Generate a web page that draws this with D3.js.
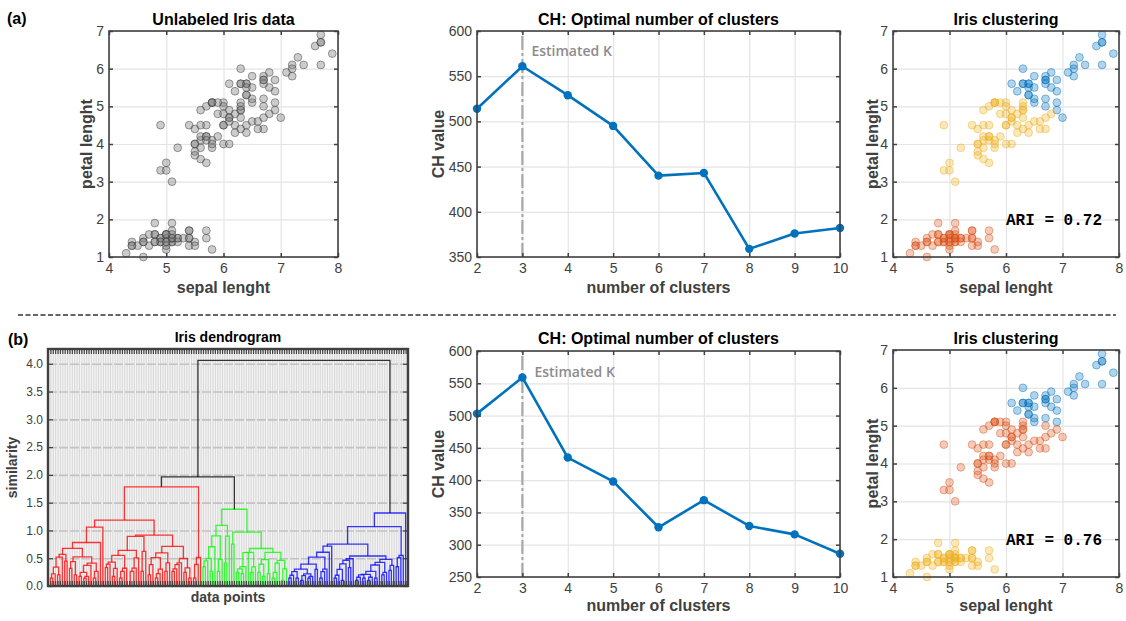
<!DOCTYPE html>
<html>
<head>
<meta charset="utf-8">
<title>Iris clustering</title>
<script src="https://cdn.jsdelivr.net/npm/d3@7"></script>
<style>
body { margin:0; background:#fff; }
text { font-family:"Liberation Sans", Arial, Helvetica, sans-serif; }
</style>
</head>
<body>
<svg id="fig" width="1126" height="621"></svg>
<script>
// Fisher iris data (150 flowers)
const sepalLength = [
5.1,4.9,4.7,4.6,5.0,5.4,4.6,5.0,4.4,4.9,5.4,4.8,4.8,4.3,5.8,5.7,5.4,5.1,5.7,5.1,
5.4,5.1,4.6,5.1,4.8,5.0,5.0,5.2,5.2,4.7,4.8,5.4,5.2,5.5,4.9,5.0,5.5,4.9,4.4,5.1,
5.0,4.5,4.4,5.0,5.1,4.8,5.1,4.6,5.3,5.0,
7.0,6.4,6.9,5.5,6.5,5.7,6.3,4.9,6.6,5.2,5.0,5.9,6.0,6.1,5.6,6.7,5.6,5.8,6.2,5.6,
5.9,6.1,6.3,6.1,6.4,6.6,6.8,6.7,6.0,5.7,5.5,5.5,5.8,6.0,5.4,6.0,6.7,6.3,5.6,5.5,
5.5,6.1,5.8,5.0,5.6,5.7,5.7,6.2,5.1,5.7,
6.3,5.8,7.1,6.3,6.5,7.6,4.9,7.3,6.7,7.2,6.5,6.4,6.8,5.7,5.8,6.4,6.5,7.7,7.7,6.0,
6.9,5.6,7.7,6.3,6.7,7.2,6.2,6.1,6.4,7.2,7.4,7.9,6.4,6.3,6.1,7.7,6.3,6.4,6.0,6.9,
6.7,6.9,5.8,6.8,6.7,6.7,6.3,6.5,6.2,5.9];
const sepalWidth = [
3.5,3.0,3.2,3.1,3.6,3.9,3.4,3.4,2.9,3.1,3.7,3.4,3.0,3.0,4.0,4.4,3.9,3.5,3.8,3.8,
3.4,3.7,3.6,3.3,3.4,3.0,3.4,3.5,3.4,3.2,3.1,3.4,4.1,4.2,3.1,3.2,3.5,3.6,3.0,3.4,
3.5,2.3,3.2,3.5,3.8,3.0,3.8,3.2,3.7,3.3,
3.2,3.2,3.1,2.3,2.8,2.8,3.3,2.4,2.9,2.7,2.0,3.0,2.2,2.9,2.9,3.1,3.0,2.7,2.2,2.5,
3.2,2.8,2.5,2.8,2.9,3.0,2.8,3.0,2.9,2.6,2.4,2.4,2.7,2.7,3.0,3.4,3.1,2.3,3.0,2.5,
2.6,3.0,2.6,2.3,2.7,3.0,2.9,2.9,2.5,2.8,
3.3,2.7,3.0,2.9,3.0,3.0,2.5,2.9,2.5,3.6,3.2,2.7,3.0,2.5,2.8,3.2,3.0,3.8,2.6,2.2,
3.2,2.8,2.8,2.7,3.3,3.2,2.8,3.0,2.8,3.0,2.8,3.8,2.8,2.8,2.6,3.0,3.4,3.1,3.0,3.1,
3.1,3.1,2.7,3.2,3.3,3.0,2.5,3.0,3.4,3.0];
const petalLength = [
1.4,1.4,1.3,1.5,1.4,1.7,1.4,1.5,1.4,1.5,1.5,1.6,1.4,1.1,1.2,1.5,1.3,1.4,1.7,1.5,
1.7,1.5,1.0,1.7,1.9,1.6,1.6,1.5,1.4,1.6,1.6,1.5,1.5,1.4,1.5,1.2,1.3,1.4,1.3,1.5,
1.3,1.3,1.3,1.6,1.9,1.4,1.6,1.4,1.5,1.4,
4.7,4.5,4.9,4.0,4.6,4.5,4.7,3.3,4.6,3.9,3.5,4.2,4.0,4.7,3.6,4.4,4.5,4.1,4.5,3.9,
4.8,4.0,4.9,4.7,4.3,4.4,4.8,5.0,4.5,3.5,3.8,3.7,3.9,5.1,4.5,4.5,4.7,4.4,4.1,4.0,
4.4,4.6,4.0,3.3,4.2,4.2,4.2,4.3,3.0,4.1,
6.0,5.1,5.9,5.6,5.8,6.6,4.5,6.3,5.8,6.1,5.1,5.3,5.5,5.0,5.1,5.3,5.5,6.7,6.9,5.0,
5.7,4.9,6.7,4.9,5.7,6.0,4.8,4.9,5.6,5.8,6.1,6.4,5.6,5.1,5.6,6.1,5.6,5.5,4.8,5.4,
5.6,5.1,5.1,5.9,5.7,5.2,5.0,5.2,5.4,5.1];
const petalWidth = [
0.2,0.2,0.2,0.2,0.2,0.4,0.3,0.2,0.2,0.1,0.2,0.2,0.1,0.1,0.2,0.4,0.4,0.3,0.3,0.3,
0.2,0.4,0.2,0.5,0.2,0.2,0.4,0.2,0.2,0.2,0.2,0.4,0.1,0.2,0.2,0.2,0.2,0.1,0.2,0.2,
0.3,0.3,0.2,0.6,0.4,0.3,0.2,0.2,0.2,0.2,
1.4,1.5,1.5,1.3,1.5,1.3,1.6,1.0,1.3,1.4,1.0,1.5,1.0,1.4,1.3,1.4,1.5,1.0,1.5,1.1,
1.8,1.3,1.5,1.2,1.3,1.4,1.4,1.7,1.5,1.0,1.1,1.0,1.2,1.6,1.5,1.6,1.5,1.3,1.3,1.3,
1.2,1.4,1.2,1.0,1.3,1.2,1.3,1.3,1.1,1.3,
2.5,1.9,2.1,1.8,2.2,2.1,1.7,1.8,1.8,2.5,2.0,1.9,2.1,2.0,2.4,2.3,1.8,2.2,2.3,1.5,
2.3,2.0,2.0,1.8,2.1,1.8,1.8,1.8,2.1,1.6,1.9,2.0,2.2,1.5,1.4,2.3,2.4,1.8,1.8,2.1,
2.4,2.3,1.9,2.3,2.5,2.3,1.9,2.0,2.3,1.8];

// k-means cluster of each flower (a) right: 0 lower, 1 middle, 2 upper
const kmeansLabels = [
0,0,0,0,0,0,0,0,0,0,0,0,0,0,0,0,0,0,0,0,0,0,0,0,0,0,0,0,0,0,0,0,0,0,0,0,0,0,0,0,
0,0,0,0,0,0,0,0,0,0,
2,1,2,1,1,1,1,1,1,1,1,1,1,1,1,1,1,1,1,1,1,1,1,1,1,1,1,2,1,1,1,1,1,1,1,1,1,1,1,1,
1,1,1,1,1,1,1,1,1,1,
2,1,2,2,2,2,1,2,2,2,2,2,2,1,1,2,2,2,2,1,2,1,2,1,2,2,1,1,2,2,2,2,2,1,2,2,2,2,1,2,
2,2,1,2,2,2,1,2,2,1];

const kChoices = [2, 3, 4, 5, 6, 7, 8, 9, 10];
const chKmeans  = [514, 561, 529, 495, 440, 443, 359, 376, 382];
const chLinkage = [503, 559, 435, 398, 327, 369, 329, 316, 286];
const estimatedK = 3;
const ariKmeans = "ARI = 0.72";
const ariLinkage = "ARI = 0.76";

const scatterTicksX = [4, 5, 6, 7, 8];
const scatterTicksY = [1, 2, 3, 4, 5, 6, 7];
const chTicksTop = [350, 400, 450, 500, 550, 600];
const chTicksBottom = [250, 300, 350, 400, 450, 500, 550, 600];
const dendroTicks = [0, 0.5, 1, 1.5, 2, 2.5, 3, 3.5, 4];

const BLUE = "#0072BD", ORANGE = "#D95319", YELLOW = "#EDB120";
const AXC = "#404040";
const svg = d3.select("#fig");

function styleAxis(a, size) {
  a.attr("font-family", null).attr("font-size", size);
  a.select(".domain").remove();
  a.selectAll(".tick line").attr("stroke", AXC).attr("stroke-width", 1.5);
  a.selectAll(".tick text").attr("fill", AXC);
}

// MATLAB-like boxed axes; returns scales and a layer for the marks
function panel(o) {
  const x = d3.scaleLinear().domain(o.xDomain).range([o.x0, o.x1]);
  const y = d3.scaleLinear().domain(o.yDomain).range([o.y1, o.y0]);
  const w = o.x1 - o.x0, h = o.y1 - o.y0;
  const root = svg.append("g");
  const gridG = root.append("g"), marks = root.append("g"), frameG = root.append("g");
  if (o.bg) gridG.append("rect").attr("x", o.x0).attr("y", o.y0).attr("width", w).attr("height", h).attr("fill", o.bg);
  gridG.append("g").attr("transform", `translate(0,${o.y1})`)
    .call(d3.axisBottom(x).tickValues(o.xGrid || o.xTicks).tickSize(-h).tickSizeOuter(0).tickFormat(""))
    .call(a => { a.select(".domain").remove();
      a.selectAll("line").attr("stroke", o.gridXColor || "#e4e4e4").attr("stroke-width", o.gridXWidth || 1.2); });
  gridG.append("g").attr("transform", `translate(${o.x0},0)`)
    .call(d3.axisLeft(y).tickValues(o.yTicks).tickSize(-w).tickSizeOuter(0).tickFormat(""))
    .call(a => { a.select(".domain").remove();
      a.selectAll("line").attr("stroke", o.gridYColor || "#e4e4e4").attr("stroke-width", o.gridYWidth || 1.2)
        .attr("stroke-dasharray", o.gridYDash || null); });

  const fs = o.tickFont || 14, tl = o.tickLen || 4;
  const xt = o.xTickMarks || o.xTicks;
  frameG.append("g").attr("transform", `translate(0,${o.y1})`)
    .call(d3.axisBottom(x).tickValues(xt).tickSize(-tl).tickSizeOuter(0).tickPadding(6)
      .tickFormat(o.xFmt || d3.format("d")))
    .call(a => styleAxis(a, fs));
  frameG.append("g").attr("transform", `translate(0,${o.y0})`)
    .call(d3.axisTop(x).tickValues(xt).tickSize(-tl).tickSizeOuter(0).tickFormat(""))
    .call(a => styleAxis(a, fs));
  frameG.append("g").attr("transform", `translate(${o.x0},0)`)
    .call(d3.axisLeft(y).tickValues(o.yTicks).tickSize(-(o.yTickLen || tl)).tickSizeOuter(0).tickPadding(5)
      .tickFormat(o.yFmt || d3.format("d")))
    .call(a => styleAxis(a, fs));
  frameG.append("g").attr("transform", `translate(${o.x1},0)`)
    .call(d3.axisRight(y).tickValues(o.yTicks).tickSize(-(o.yTickLen || tl)).tickSizeOuter(0).tickFormat(""))
    .call(a => styleAxis(a, fs));
  if (o.tickW) frameG.selectAll(".tick line").attr("stroke-width", o.tickW);
  frameG.append("rect").attr("x", o.x0).attr("y", o.y0).attr("width", w).attr("height", h)
    .attr("fill", "none").attr("stroke", AXC).attr("stroke-width", o.boxW || 1.6);

  const lf = o.labelFont || 16;
  frameG.append("text").attr("x", (o.x0 + o.x1) / 2).attr("y", o.titleY)
    .attr("text-anchor", "middle").attr("font-weight", "bold").attr("font-size", lf).attr("fill", "#000").text(o.title);
  frameG.append("text").attr("x", (o.x0 + o.x1) / 2).attr("y", o.xLabelY)
    .attr("text-anchor", "middle").attr("font-weight", "bold").attr("font-size", lf).attr("fill", AXC).text(o.xLabel);
  frameG.append("text").attr("transform", `translate(${o.yLabelX},${(o.y0 + o.y1) / 2}) rotate(-90)`)
    .attr("text-anchor", "middle").attr("font-weight", "bold").attr("font-size", lf).attr("fill", AXC).text(o.yLabel);
  return { x, y, marks };
}

function scatterPanel(y0, y1, titleY, xLabelY, colorOf, ari) {
  const p = panel({ x0: 893, x1: 1119, y0, y1, xDomain: [4, 8], yDomain: [1, 7],
    xTicks: scatterTicksX, yTicks: scatterTicksY, title: "Iris clustering",
    xLabel: "sepal lenght", yLabel: "petal lenght", titleY, xLabelY, yLabelX: 878 });
  p.marks.selectAll("circle").data(d3.range(sepalLength.length)).join("circle")
    .attr("cx", i => p.x(sepalLength[i])).attr("cy", i => p.y(petalLength[i])).attr("r", 3.9)
    .attr("fill", colorOf).attr("fill-opacity", 0.3)
    .attr("stroke", colorOf).attr("stroke-opacity", 0.45).attr("stroke-width", 1);
  p.marks.append("text").attr("x", p.x(6)).attr("y", p.y(2) + 5.5)
    .attr("font-family", "'Liberation Mono', 'Courier New', monospace").style("font-family", "'Liberation Mono', 'Courier New', monospace")
    .attr("font-weight", "bold").attr("font-size", 16).attr("fill", "#000")
    .attr("xml:space", "preserve").text(ari);
}

function chPanel(y0, y1, yDomain, yTicks, values, titleY, xLabelY, estX, estY) {
  const p = panel({ x0: 477, x1: 840, y0, y1, xDomain: [2, 10], yDomain,
    xTicks: kChoices, yTicks, title: "CH: Optimal number of clusters",
    xLabel: "number of clusters", yLabel: "CH value", titleY, xLabelY, yLabelX: 444 });
  p.marks.append("line").attr("x1", p.x(estimatedK)).attr("x2", p.x(estimatedK))
    .attr("y1", p.y(yDomain[0])).attr("y2", p.y(yDomain[1]))
    .attr("stroke", "#a8a8a8").attr("stroke-width", 2.2).attr("stroke-dasharray", "14,3,3,3");
  p.marks.append("text").attr("x", p.x(estimatedK) + estX).attr("y", y0 + estY)
    .style("font-family", "'Open Sans', 'DejaVu Sans', sans-serif").attr("font-weight", 600)
    .attr("font-size", 14).attr("fill", "#8c8c8c").text("Estimated K");
  const pts = kChoices.map((k, i) => [k, values[i]]);
  p.marks.append("path").datum(pts)
    .attr("d", d3.line().x(d => p.x(d[0])).y(d => p.y(d[1])))
    .attr("fill", "none").attr("stroke", BLUE).attr("stroke-width", 2.6).attr("stroke-linejoin", "round");
  p.marks.selectAll("circle").data(pts).join("circle")
    .attr("cx", d => p.x(d[0])).attr("cy", d => p.y(d[1])).attr("r", 4.2).attr("fill", BLUE);
}

// ---------- average-linkage hierarchical clustering on the four features ----------
const flowers = sepalLength.map((v, i) => [v, sepalWidth[i], petalLength[i], petalWidth[i]]);
function averageLinkage(X) {
  const n = X.length, N = 2 * n - 1;
  const D = Array.from({ length: N }, () => new Float64Array(N));
  for (let i = 0; i < n; i++) for (let j = 0; j < n; j++)
    D[i][j] = Math.sqrt(d3.sum(X[i], (v, k) => (v - X[j][k]) ** 2));
  const nodes = X.map((_, i) => ({ id: i, h: 0, size: 1, leaf: true }));
  const active = d3.range(n);
  for (let id = n; id < N; id++) {
    let best = Infinity, bi = -1, bj = -1;
    for (let a = 0; a < active.length; a++) for (let b = a + 1; b < active.length; b++) {
      const d = D[active[a]][active[b]];
      if (d < best - 1e-12) { best = d; bi = a; bj = b; }
    }
    const A = nodes[active[bi]], B = nodes[active[bj]];
    const node = { id, h: best, size: A.size + B.size, kids: [A, B] };
    nodes.push(node);
    active.splice(bj, 1); active.splice(bi, 1);
    for (const c of active) D[id][c] = D[c][id] = (D[A.id][c] * A.size + D[B.id][c] * B.size) / node.size;
    active.push(id);
  }
  return nodes[N - 1];
}
const tree = averageLinkage(flowers);

// leaf order: later-formed branch on the left
const order = [];
(function walk(nd) {
  if (nd.leaf) { order.push(nd.id); return; }
  const [a, b] = nd.kids;
  const [l, r] = a.id > b.id ? [a, b] : [b, a];
  walk(l); walk(r);
})(tree);
const leafPos = new Map(order.map((id, i) => [id, i + 1]));
const links = [];
(function place(nd) {
  if (nd.leaf) { nd.px = leafPos.get(nd.id); return; }
  nd.kids.forEach(place);
  nd.px = (nd.kids[0].px + nd.kids[1].px) / 2;
  links.push(nd);
})(tree);

// colour groups below the threshold
const colorThreshold = 1.9;
const groupColors = ["#ff0000", "#00ff00", "#0000ff"];
const groups = [];
(function findGroups(nd) {
  if (nd.h < colorThreshold) { groups.push(nd); return; }
  nd.kids.forEach(findGroups);
})(tree);
groups.sort((a, b) => a.px - b.px);
function paint(nd, c) { nd.color = c; if (!nd.leaf) nd.kids.forEach(k => paint(k, c)); }
links.forEach(l => l.color = "#000");
let gi = 0;
groups.forEach(g => { if (!g.leaf) paint(g, groupColors[gi++ % groupColors.length]); });

// three clusters cut from the tree for panel (b) right
let parts = [tree];
while (parts.length < 3) {
  parts.sort((a, b) => b.h - a.h);
  const top = parts.shift();
  parts.push(...top.kids);
}
function leavesOf(nd, out = []) { if (nd.leaf) out.push(nd.id); else nd.kids.forEach(k => leavesOf(k, out)); return out; }
const linkageLabels = new Array(flowers.length);
const partLeaves = parts.map(p => leavesOf(p));
const setosaPart = partLeaves.findIndex(ls => ls.includes(0));
const meanPetal = partLeaves.map(ls => d3.mean(ls, i => petalLength[i]));
const upperPart = d3.maxIndex(meanPetal);
partLeaves.forEach((ls, pi) => ls.forEach(i => linkageLabels[i] = pi === setosaPart ? 0 : pi === upperPart ? 2 : 1));

// ---------- panel (a) ----------
svg.append("text").attr("x", 7).attr("y", 24).attr("font-weight", "bold").attr("font-size", 16).text("(a)");
{
  const p = panel({ x0: 109, x1: 338, y0: 31, y1: 257, xDomain: [4, 8], yDomain: [1, 7],
    xTicks: scatterTicksX, yTicks: scatterTicksY, title: "Unlabeled Iris data",
    xLabel: "sepal lenght", yLabel: "petal lenght", titleY: 25, xLabelY: 293, yLabelX: 92 });
  p.marks.selectAll("circle").data(d3.range(sepalLength.length)).join("circle")
    .attr("cx", i => p.x(sepalLength[i])).attr("cy", i => p.y(petalLength[i])).attr("r", 3.9)
    .attr("fill", "#808080").attr("fill-opacity", 0.4)
    .attr("stroke", "#303030").attr("stroke-opacity", 0.45).attr("stroke-width", 1);
}
chPanel(31, 257, [350, 600], chTicksTop, chKmeans, 25, 293, 9, 25);
scatterPanel(31, 257, 25, 293, i => [ORANGE, YELLOW, BLUE][kmeansLabels[i]], ariKmeans);

svg.append("line").attr("x1", 18).attr("x2", 1116).attr("y1", 315).attr("y2", 315)
  .attr("stroke", "#333").attr("stroke-width", 1.4).attr("stroke-dasharray", "5,2.5");

// ---------- panel (b) ----------
svg.append("text").attr("x", 8).attr("y", 345).attr("font-weight", "bold").attr("font-size", 16).text("(b)");
{
  const n = flowers.length;
  const leafIdx = d3.range(1, n + 1);
  const p = panel({ x0: 48, x1: 408, y0: 349, y1: 586, xDomain: [0, n + 1], yDomain: [0, tree.h * 1.05],
    xTicks: [], xTickMarks: leafIdx, xGrid: leafIdx, yTicks: dendroTicks, bg: "#f4f4f4",
    gridXColor: "#d9d9d9", gridXWidth: 1.1, gridYColor: "#c2c2c2", gridYWidth: 1.6, gridYDash: "9,2",
    xFmt: () => "", yFmt: d3.format(".1f"), tickFont: 12, tickLen: 5, yTickLen: 5, tickW: 1.2, boxW: 2.4,
    title: "Iris dendrogram", xLabel: "data points", yLabel: "similarity",
    labelFont: 14, titleY: 342, xLabelY: 602, yLabelX: 17 });
  p.marks.selectAll("path").data(links).join("path")
    .attr("d", nd => {
      const [a, b] = nd.kids;
      return `M${p.x(a.px)},${p.y(a.h)}V${p.y(nd.h)}H${p.x(b.px)}V${p.y(b.h)}`;
    })
    .attr("fill", "none").attr("stroke", nd => nd.color).attr("stroke-opacity", 0.78).attr("stroke-width", 1.3);
}
chPanel(351, 577, [250, 600], chTicksBottom, chLinkage, 344, 611, 12, 26);
scatterPanel(350, 577, 344, 611, i => [YELLOW, ORANGE, BLUE][linkageLabels[i]], ariLinkage);
</script>
</body>
</html>
